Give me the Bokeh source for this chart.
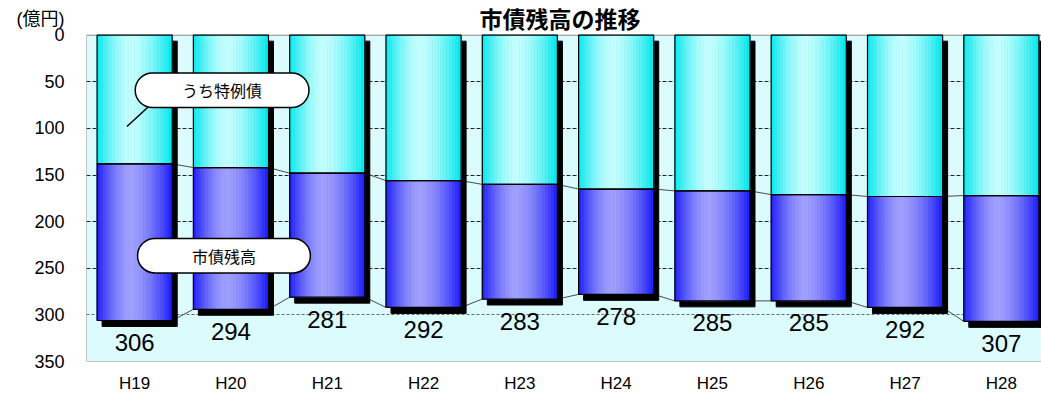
import numpy as np
from bokeh.plotting import figure
from bokeh.models import Range1d, FixedTicker, BoxAnnotation, Label, Grid
from bokeh.embed import file_html
from bokeh.resources import INLINE
from bokeh.core.properties import value

# 市債残高 (億円) and the 特例債 part of it, by fiscal year
years = ["H19", "H20", "H21", "H22", "H23", "H24", "H25", "H26", "H27", "H28"]
total = [306, 294, 281, 292, 283, 278, 285, 285, 292, 307]
tokurei = [138, 142, 148, 156, 160, 165, 167, 171, 173, 172]
y_ticks = [0, 50, 100, 150, 200, 250, 300, 350]
unit_text = "(億円)"
title_text = "市債残高の推移"

SANS = "Liberation Sans, Noto Sans CJK JP"
JP = "Noto Sans CJK JP"

W, H = 1041, 395
LEFT, BOTTOM = 86, 31
AREA_TOP = 35                      # pixel row of value 0 (top of the plotting area)
STEP_PX = 96.3                     # pixels per category
x_lo = -0.5
x_hi = x_lo + (W - LEFT) / STEP_PX
BW = 0.78                          # bar width in category units
px_per_unit = (H - BOTTOM - AREA_TOP) / 350.0
y_top = -AREA_TOP / px_per_unit    # frame reaches up to the canvas top; header lives above 0
SH_DX = 5 / STEP_PX                # drop shadow offset
SH_DY = 6 / px_per_unit


def px_to_y(py):
    return -(AREA_TOP - py) / px_per_unit


p = figure(width=W, height=H, output_backend="svg", toolbar_location=None,
           x_range=Range1d(x_lo, x_hi), y_range=Range1d(350, y_top),
           min_border_left=LEFT, min_border_right=0,
           min_border_top=0, min_border_bottom=BOTTOM)
p.background_fill_color = "white"
p.border_fill_color = "white"
p.outline_line_color = None

# plotting area (0 to 350)
p.add_layout(BoxAnnotation(top=0, bottom=350, fill_color="#dcfbfc", fill_alpha=1,
                           line_color="#8c8c8c", line_alpha=1, line_width=1,
                           level="image"))

# grid
p.xgrid.visible = False
p.ygrid.ticker = FixedTicker(ticks=[50, 100, 150, 200, 250])
p.ygrid.grid_line_color = "#222222"
p.ygrid.grid_line_dash = "4 2"
p.ygrid.grid_line_width = 1
p.add_layout(Grid(dimension=1, ticker=FixedTicker(ticks=[300]),
                  grid_line_color="#6a6a6a", grid_line_dash="3 2", grid_line_width=1))

# axes; the unit sits on the value axis just above the 0 tick
unit_tick = int(round(px_to_y(19)))
xa = p.xaxis[0]
xa.ticker = FixedTicker(ticks=list(range(len(years))))
xa.major_label_overrides = {i: y for i, y in enumerate(years)}
ya = p.yaxis[0]
ya.ticker = FixedTicker(ticks=[unit_tick] + y_ticks)
ya.major_label_overrides = {unit_tick: unit_text}
for ax in (xa, ya):
    ax.axis_line_color = None
    ax.major_tick_line_color = None
    ax.minor_tick_line_color = None
    ax.major_tick_out = 0
    ax.major_tick_in = 0
    ax.major_label_text_font = SANS
    ax.major_label_text_color = "black"
xa.major_label_text_font_size = "17px"
ya.major_label_text_font_size = "18px"
xa.major_label_standoff = 12
ya.major_label_standoff = 22

idx = np.arange(len(years))
tot = np.array(total, dtype=float)
tok = np.array(tokurei, dtype=float)

# series lines between neighbouring bars
for level in (tok, tot):
    p.segment(x0=idx[:-1] + BW / 2, y0=level[:-1], x1=idx[1:] - BW / 2, y1=level[1:],
              line_color="#4a4a4a", line_width=1)

# drop shadows
p.quad(left=idx - BW / 2 + SH_DX, right=idx + BW / 2 + SH_DX,
       top=np.zeros_like(tot) + SH_DY, bottom=tot + SH_DY,
       fill_color="black", line_color="black")


def shade(edge, center, t, peak=0.45):
    d = np.where(t < peak, (peak - t) / peak, (t - peak) / (1 - peak))
    f = 1 - d ** 1.6
    return ["#%02x%02x%02x" % tuple(int(round(e + (c - e) * k)) for e, c in zip(edge, center))
            for k in f]


# bars with horizontal shading, drawn as thin vertical strips
N = 26
t = (np.arange(N) + 0.5) / N
cyan_cols = shade((0, 232, 238), (196, 255, 255), t)
blue_cols = shade((28, 28, 250), (160, 160, 255), t)
L, R, T, B, C = [], [], [], [], []
for i in idx:
    x0 = i - BW / 2
    for j in range(N):
        l = x0 + BW * j / N
        r = x0 + BW * (j + 1) / N
        L += [l, l]
        R += [r, r]
        T += [0, tok[i]]
        B += [tok[i], tot[i]]
        C += [cyan_cols[j], blue_cols[j]]
p.quad(left=L, right=R, top=T, bottom=B, fill_color=C, line_color=C, line_width=0.8)

# bar outlines
p.quad(left=idx - BW / 2, right=idx + BW / 2, top=np.zeros_like(tot), bottom=tok,
       fill_color=None, line_color="black", line_width=1.2)
p.quad(left=idx - BW / 2, right=idx + BW / 2, top=tok, bottom=tot,
       fill_color=None, line_color="black", line_width=1.2)

# value labels under each bar
p.text(x=idx, y=tot, text=[str(v) for v in total], text_align="center",
       text_baseline="middle", y_offset=22, text_color="black",
       text_font=value("Liberation Sans"), text_font_size="24px")

# callouts
p.segment(x0=[0.14], y0=[77.0], x1=[-0.08], y1=[98.0], line_color="black", line_width=1.5)
p.add_layout(BoxAnnotation(left=0.006, right=1.81, top=40.5, bottom=77.5,
                           fill_color="white", fill_alpha=1, line_color="black",
                           line_alpha=1, line_width=1.5, border_radius=18))
p.add_layout(Label(x=0.908, y=59, text="うち特例債", text_align="center",
                   text_baseline="middle", text_font=JP, text_font_size="16px",
                   text_color="black"))
p.add_layout(BoxAnnotation(left=0.03, right=1.825, top=218, bottom=255,
                           fill_color="white", fill_alpha=1, line_color="black",
                           line_alpha=1, line_width=1.5, border_radius=18))
p.add_layout(Label(x=0.928, y=236.5, text="市債残高", text_align="center",
                   text_baseline="middle", text_font=JP, text_font_size="16px",
                   text_color="black"))

# title
p.add_layout(Label(x=(x_lo + x_hi) / 2, y=px_to_y(18), x_offset=-4, text=title_text,
                   text_align="center", text_baseline="middle", text_font=JP,
                   text_font_size="23px", text_font_style="bold", text_color="black"))

open("out.html", "w").write(file_html(p, INLINE))
